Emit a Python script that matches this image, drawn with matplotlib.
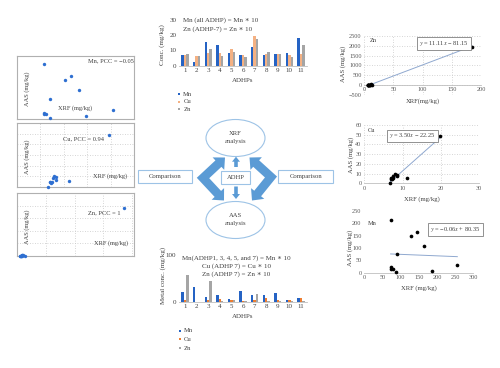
import numpy as np
import matplotlib
matplotlib.use('Agg')
import matplotlib.pyplot as plt
from matplotlib.patches import Ellipse, Rectangle, Polygon, FancyArrow

plt.rcParams['font.family'] = ['Liberation Serif', 'DejaVu Serif']
plt.rcParams['mathtext.fontset'] = 'stix'

W, H = 500, 368
fig = plt.figure(figsize=(5, 3.68), dpi=100)

# ---------------- data ----------------
adhps = list(range(1, 12))
adhp_labels = [str(i) for i in adhps]
# XRF bar chart (top)
xrf_mn = [7.0, 2.4, 15.8, 13.8, 8.4, 7.0, 12.1, 7.0, 7.5, 8.1, 18.0]
xrf_cu = [7.0, 6.4, 8.4, 8.4, 11.0, 7.0, 19.3, 7.9, 7.5, 7.0, 7.5]
xrf_zn = [7.9, 6.4, 10.8, 6.4, 9.2, 5.5, 17.6, 9.2, 7.5, 5.9, 13.8]
# AAS bar chart (bottom)
aas_mn = [20.0, 30.7, 9.3, 15.0, 6.4, 22.0, 13.6, 13.6, 17.9, 3.6, 8.6]
aas_cu = [3.6, 0.3, 4.3, 5.7, 2.9, 2.1, 3.6, 7.1, 2.9, 2.9, 8.6]
aas_zn = [57.0, 0.3, 45.0, 1.4, 2.9, 2.1, 15.7, 2.1, 1.4, 0.7, 1.4]
# scatter data XRF vs AAS
sc_mn_xrf = [73.4, 127.5, 144, 165, 89, 73.4, 72.5, 78, 87, 185, 256]
sc_mn_aas = [212, 150, 163, 109, 75, 22, 15, 15, 1.4, 7, 31]
sc_cu_xrf = [7.0, 6.6, 8.4, 8.4, 11.2, 7.0, 19.7, 7.9, 7.5, 7.2, 7.6]
sc_cu_aas = [5.0, 0.0, 7.0, 9.0, 5.3, 4.5, 49.0, 10.0, 5.0, 4.0, 8.0]
sc_zn_xrf = [7.9, 6.4, 10.8, 6.4, 9.2, 5.5, 185, 9.2, 7.5, 5.9, 13.8]
sc_zn_aas = [30, 0, 50, 5, 20, 3, 1930, 8, 10, 2, 15]
pcc = {'Mn': '−0.05', 'Cu': '0.94', 'Zn': '1'}
fit_zn = (11.11, -81.15)
fit_cu = (3.50, -22.25)
fit_mn = (-0.06, 80.35)

C_MN = '#2563c4'
C_CU_TOP = '#f4b183'
C_CU_BOT = '#ed7d31'
C_ZN = '#a5a5a5'
C_PT = '#2e6fd1'
TXT = '#404040'


def box(l, t, r, b):
    return [l / W, 1 - b / H, (r - l) / W, (b - t) / H]


# ---------------- left mini scatter panels ----------------
def left_panel(rect, x, y, xlim, ylim, xt, yt, grid):
    ax = fig.add_axes(box(*rect))
    ax.set_facecolor('none')
    ax.scatter(x, y, s=6, color=C_PT, marker='o', lw=0, clip_on=False, zorder=3)
    ax.set_xlim(*xlim)
    ax.set_ylim(*ylim)
    ax.set_xticks(xt)
    ax.set_yticks(yt)
    ax.tick_params(length=0, labelbottom=False, labelleft=False)
    if grid:
        ax.grid(True, ls=(0, (1, 2)), color='#c8c8c8', lw=0.6)
    for s in ax.spines.values():
        s.set_color('#b0b0b0')
        s.set_linewidth(0.8)
    return ax

left_panel((17, 55.7, 134, 119), sc_mn_xrf, sc_mn_aas, (0, 313), (-3, 243),
           [], [], False)
left_panel((17, 123, 134, 187), sc_cu_xrf, sc_cu_aas, (0, 25), (0, 60),
           np.arange(5, 25, 5), np.arange(10, 60, 10), True)
left_panel((17, 192.7, 134, 256), sc_zn_xrf, sc_zn_aas, (0, 203), (0, 2530),
           np.arange(50, 201, 50), np.arange(500, 2501, 500), True)


# ---------------- right scatter panels ----------------
def right_panel(rect, x, y, xlim, ylim, xt, yt, grid, fit, zero_spine=False):
    ax = fig.add_axes(box(*rect))
    ax.set_facecolor('none')
    ax.scatter(x, y, s=7, color='black', lw=0, zorder=4, clip_on=False)
    xs = np.array([min(x), max(x)])
    ax.plot(xs, fit[0] * xs + fit[1], color='#8fa8cf', lw=0.7, zorder=3)
    ax.set_xlim(*xlim)
    ax.set_ylim(*ylim)
    ax.set_xticks(xt)
    ax.set_yticks(yt)
    ax.tick_params(length=0, labelsize=4.5, labelcolor='#595959', pad=2)
    for k in ['top', 'right', 'left']:
        ax.spines[k].set_visible(False)
    ax.spines['bottom'].set_color('#bfbfbf')
    ax.spines['bottom'].set_linewidth(0.6)
    if zero_spine:
        ax.spines['bottom'].set_position(('data', 0))
        ax.tick_params(axis='x', pad=1)
    if grid:
        ax.grid(True, ls=(0, (1, 2)), color='#c8c8c8', lw=0.6)
    ax.set_axisbelow(True)
    return ax

right_panel((364.3, 35.7, 481, 95.3), sc_zn_xrf, sc_zn_aas, (0, 200), (-500, 2500),
            np.arange(0, 201, 50), np.arange(-500, 2501, 500), True, fit_zn, True)
right_panel((364.3, 125, 479.3, 183.3), sc_cu_xrf, sc_cu_aas, (0, 30), (0, 60),
            np.arange(0, 31, 10), np.arange(0, 61, 10), True, fit_cu)
right_panel((364.3, 211, 473.3, 272.7), sc_mn_xrf, sc_mn_aas, (0, 300), (0, 250),
            np.arange(0, 301, 50), np.arange(0, 251, 50), False, fit_mn)


# ---------------- bar charts ----------------
def bar_panel(rect, mn, cu, zn, cu_col, ylim, yt):
    ax = fig.add_axes(box(*rect))
    ax.set_facecolor('none')
    x = np.array(adhps, float)
    bw = 0.2
    ax.bar(x - 0.21, mn, bw, color=C_MN, lw=0)
    ax.bar(x, cu, bw, color=cu_col, lw=0)
    ax.bar(x + 0.21, zn, bw, color=C_ZN, lw=0)
    ax.set_xlim(0.5, 11.5)
    ax.set_ylim(*ylim)
    ax.set_xticks(adhps)
    ax.set_xticklabels(adhp_labels)
    ax.set_yticks(yt)
    ax.tick_params(length=0, labelsize=5, labelcolor=TXT, pad=2)
    for k in ['top', 'right', 'left']:
        ax.spines[k].set_visible(False)
    ax.spines['bottom'].set_color('#bfbfbf')
    ax.spines['bottom'].set_linewidth(0.6)
    return ax

bar_panel((179.2, 20, 306.8, 65.7), xrf_mn, xrf_cu, xrf_zn, C_CU_TOP, (0, 30), [0, 10, 20, 30])
bar_panel((179.2, 255, 306.8, 301.7), aas_mn, aas_cu, aas_zn, C_CU_BOT, (0, 100), [0, 100])


# ---------------- overlay (pixel coordinates) ----------------
bg = fig.add_axes([0, 0, 1, 1])
bg.set_xlim(0, W)
bg.set_ylim(H, 0)
bg.axis('off')
bg.patch.set_visible(False)


def t(x, y, s, size=4.8, ha='center', va='center', rot=0, color=TXT, **kw):
    bg.text(x, y, s, fontsize=size, ha=ha, va=va, rotation=rot, color=color, **kw)

# left panel labels
t(88, 61, 'Mn, PCC = ' + pcc['Mn'], ha='left', size=4.6)
t(26.7, 88.3, 'AAS (mg/kg)', rot=90, size=4.6)
t(75.5, 108.3, 'XRF (mg/kg)', size=4.6)
t(63.3, 139, 'Cu, PCC = ' + pcc['Cu'], ha='left', size=4.6)
t(26.7, 157, 'AAS (mg/kg)', rot=90, size=4.6)
t(110, 176, 'XRF (mg/kg)', size=4.6)
t(88.3, 212.7, 'Zn, PCC = ' + pcc['Zn'], ha='left', size=4.6)
t(26.7, 226.7, 'AAS (mg/kg)', rot=90, size=4.6)
t(110.8, 242.7, 'XRF (mg/kg)', size=4.6)

# right panel labels
eq_box = dict(boxstyle='square,pad=0.3', fc='white', ec='#808080', lw=0.6)
t(369.3, 40.7, 'Zn', ha='left', size=4.6)
t(443.7, 43.3, r'$y$ = 11.11$x$ − 81.15', size=4.6, bbox=eq_box)
t(342.7, 64.3, 'AAS (mg/kg)', rot=90, size=4.8)
t(422.7, 101, 'XRF(mg/kg)', size=4.8)
t(368, 130, 'Cu', ha='left', size=4.6)
t(412.5, 136, r'$y$ = 3.50$x$ − 22.25', size=4.6, bbox=eq_box)
t(350.7, 155, 'AAS (mg/kg)', rot=90, size=4.8)
t(421.8, 198.7, 'XRF (mg/kg)', size=4.8)
t(368, 223.3, 'Mn', ha='left', size=4.6)
t(455.5, 229.3, r'$y$ = −0.06$x$ + 80.35', size=4.6, bbox=eq_box)
t(350, 248, 'AAS (mg/kg)', rot=90, size=4.8)
t(418.8, 287.7, 'XRF (mg/kg)', size=4.8)

# top bar chart labels
t(183.3, 20, 'Mn (all ADHP) = Mn ∗ 10', ha='left', size=5)
t(183.3, 29.3, 'Zn (ADHP-7) = Zn ∗ 10', ha='left', size=5)
t(161.7, 45, 'Conc. (mg/kg)', rot=90, size=5)
t(243, 80, 'ADHPs', size=5)
for yy, nm, col in zip([94.3, 101.7, 109.3], ['Mn', 'Cu', 'Zn'], [C_MN, C_CU_TOP, C_ZN]):
    bg.scatter([179.3], [yy], s=3, marker='s', color=col, lw=0)
    t(183.3, yy, nm, ha='left', size=4.8)

# bottom bar chart labels
t(236.5, 258.3, 'Mn(ADHP1, 3, 4, 5, and 7) = Mn ∗ 10', size=5)
t(236.5, 266, 'Cu (ADHP 7) = Cu ∗ 10', size=5)
t(236.5, 274.3, 'Zn (ADHP 7) = Zn ∗ 10', size=5)
t(163, 275, 'Metal conc. (mg/kg)', rot=90, size=5)
t(243, 316.7, 'ADHPs', size=5)
for yy, nm, col in zip([331, 339.3, 348.3], ['Mn', 'Cu', 'Zn'], [C_MN, C_CU_BOT, C_ZN]):
    bg.scatter([180], [yy], s=3, marker='s', color=col, lw=0)
    t(184, yy, nm, ha='left', size=4.8)

# ---------------- diagram ----------------
EC = '#9dc3e6'
AC = '#5b9bd5'
bg.add_patch(Ellipse((235.5, 138), 59, 37, fc='white', ec=EC, lw=0.8))
bg.add_patch(Ellipse((235.5, 220), 59, 37, fc='white', ec=EC, lw=0.8))
t(235.5, 133.5, 'XRF', size=4.8)
t(235.5, 142, 'analysis', size=4.8)
t(235.5, 215.7, 'AAS', size=4.8)
t(235.5, 223.8, 'analysis', size=4.8)
bg.add_patch(Rectangle((221, 171), 29, 13, fc='white', ec=EC, lw=0.8))
t(235.5, 177.5, 'ADHP', size=4.8)
bg.add_patch(Rectangle((138.3, 170), 53.4, 13.3, fc='white', ec=EC, lw=0.8))
t(165, 176.7, 'Comparison', size=4.8)
bg.add_patch(Rectangle((278.3, 170), 55, 13.3, fc='white', ec=EC, lw=0.8))
t(305.8, 176.7, 'Comparison', size=4.8)


def chevron(C, A, B, w, hw, hl):
    C = np.array(C, float); A = np.array(A, float); B = np.array(B, float)
    dA = (A - C) / np.linalg.norm(A - C)
    dB = (B - C) / np.linalg.norm(B - C)
    perp = lambda d: np.array([-d[1], d[0]])
    bis = dA + dB
    bis /= np.linalg.norm(bis)
    half = np.arccos(np.clip(np.dot(dA, dB), -1, 1)) / 2
    m = w / np.sin(half)
    nA = perp(dA)
    if np.dot(nA, bis) > 0:
        nA = -nA
    nB = perp(dB)
    if np.dot(nB, bis) > 0:
        nB = -nB
    Ab = A - hl * dA
    Bb = B - hl * dB
    return [A, Ab + hw * nA, Ab + w * nA, C - m * bis, Bb + w * nB, Bb + hw * nB, B,
            Bb - hw * nB, Bb - w * nB, C + m * bis, Ab - w * nA, Ab - hw * nA]

bg.add_patch(Polygon(chevron((203, 178), (225, 157.5), (224, 200.5), 4.4, 8.5, 9),
                     closed=True, fc=AC, ec='none'))
bg.add_patch(Polygon(chevron((271, 177), (249.5, 157.5), (252, 200.5), 4.4, 8.5, 9),
                     closed=True, fc=AC, ec='none'))
bg.add_patch(FancyArrow(236, 167, 0, -10.3, width=3.6, head_width=8, head_length=5,
                        length_includes_head=True, fc=AC, ec='none'))
bg.add_patch(FancyArrow(236, 186.5, 0, 12.5, width=3.6, head_width=8, head_length=5,
                        length_includes_head=True, fc=AC, ec='none'))

fig.savefig('out.png', dpi=100, facecolor='white')
